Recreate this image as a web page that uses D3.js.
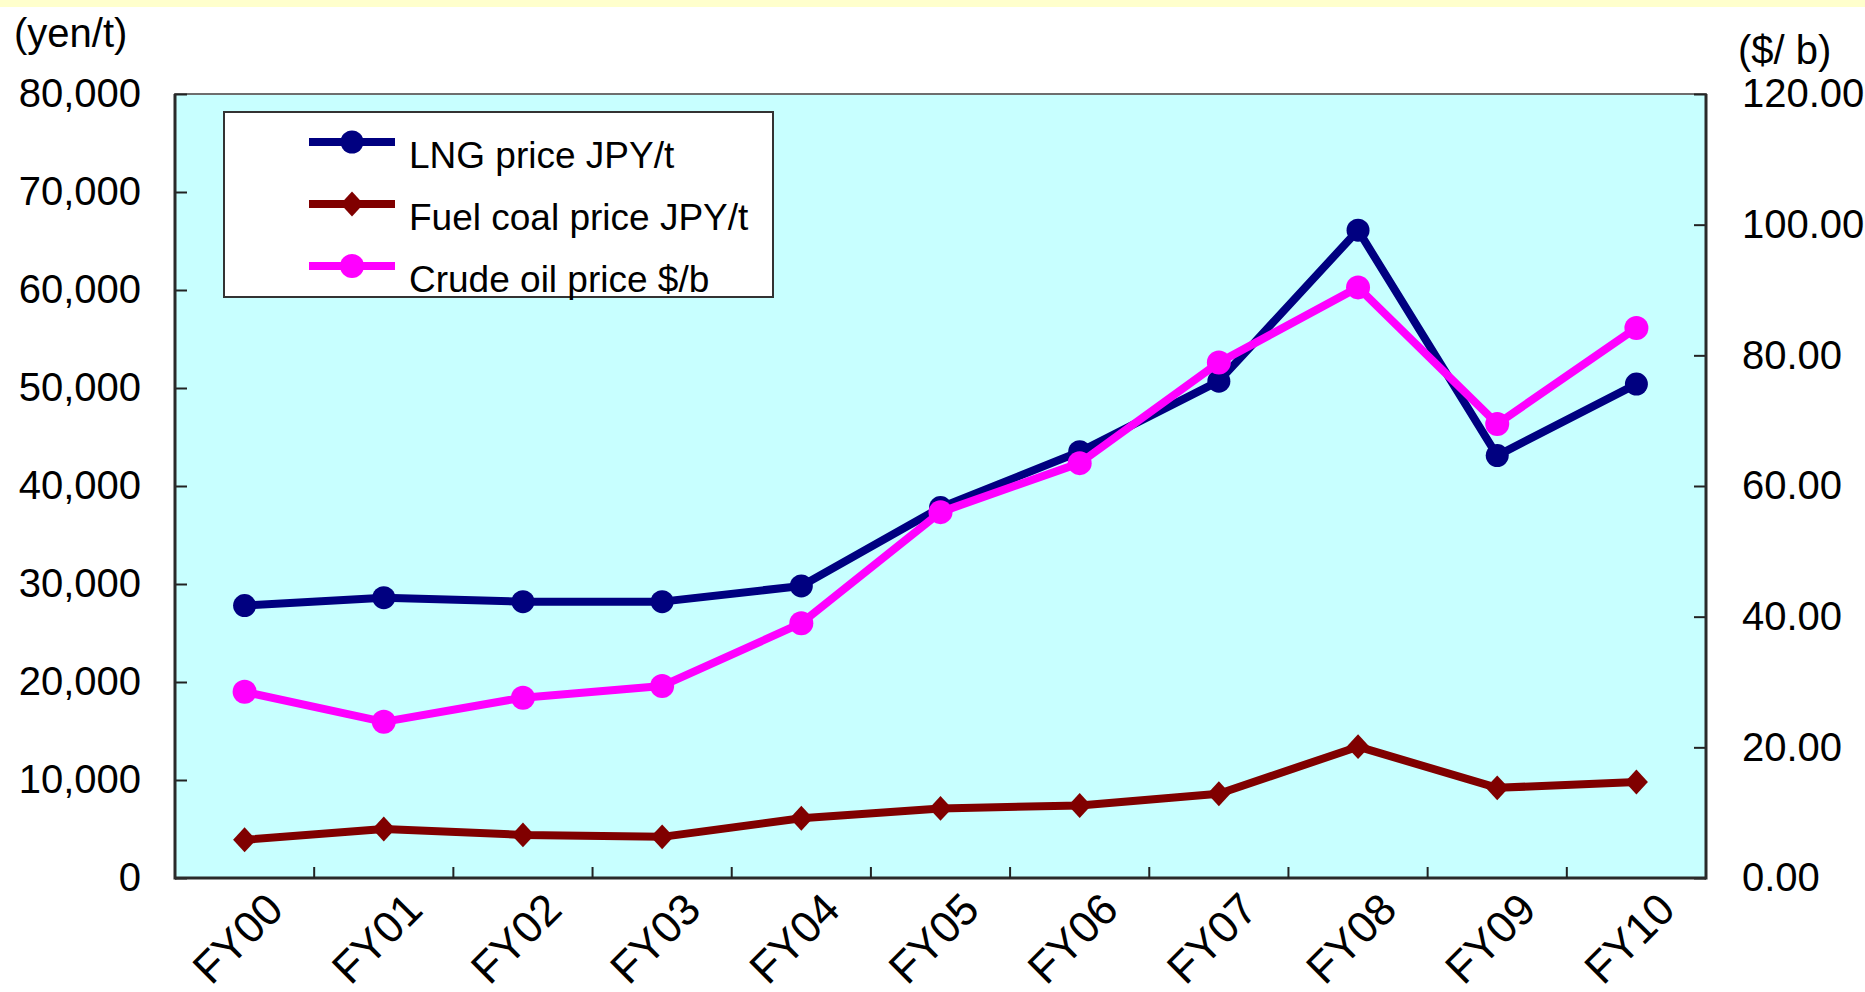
<!DOCTYPE html>
<html>
<head>
<meta charset="utf-8">
<script src="https://cdn.jsdelivr.net/npm/d3@7"></script>
<style>
  html, body { margin: 0; padding: 0; background: #ffffff; }
  svg { display: block; }
  text { font-family: "Liberation Sans", Arial, sans-serif; fill: #000; }
</style>
</head>
<body>
<svg id="chart" width="1865" height="992"></svg>
<script>
// Fiscal years on the category axis
const categories = ["FY00", "FY01", "FY02", "FY03", "FY04", "FY05", "FY06", "FY07", "FY08", "FY09", "FY10"];

// Left axis series (yen per tonne)
const lngPrice  = [27800, 28600, 28200, 28200, 29800, 37800, 43500, 50700, 66100, 43100, 50400];
const coalPrice = [3900, 5000, 4400, 4200, 6100, 7100, 7400, 8600, 13400, 9200, 9800];

// Right axis series (dollars per barrel)
const crudePrice = [28.5, 23.9, 27.6, 29.4, 39.0, 56.0, 63.5, 78.9, 90.4, 69.5, 84.2];

// Axis ticks
const leftTicks  = [0, 10000, 20000, 30000, 40000, 50000, 60000, 70000, 80000];
const rightTicks = [0, 20, 40, 60, 80, 100, 120];

const seriesNames = ["LNG price JPY/t", "Fuel coal price JPY/t", "Crude oil price $/b"];

const svg = d3.select("#chart");
const W = 1865, H = 992;
const plot = { left: 175, right: 1706, top: 94, bottom: 878 };

// Pale yellow strip along the top edge
svg.append("rect").attr("x", 0).attr("y", 0).attr("width", W).attr("height", 7).attr("fill", "#ffffcc");

const x = d3.scaleBand().domain(categories).range([plot.left, plot.right]).padding(0);
const yL = d3.scaleLinear().domain([0, 80000]).range([plot.bottom, plot.top]);
const yR = d3.scaleLinear().domain([0, 120]).range([plot.bottom, plot.top]);
const cx = c => x(c) + x.bandwidth() / 2;

// Plot area
svg.append("rect")
  .attr("x", plot.left).attr("y", plot.top)
  .attr("width", plot.right - plot.left).attr("height", plot.bottom - plot.top)
  .attr("fill", "#c8ffff").attr("stroke", "#6e6e6e").attr("stroke-width", 2);

// Left value axis
const axL = svg.append("g").attr("transform", `translate(${plot.left},0)`)
  .call(d3.axisLeft(yL).tickValues(leftTicks).tickFormat(d3.format(",")).tickSizeInner(-12).tickSizeOuter(0).tickPadding(34));
axL.select(".domain").remove();
axL.selectAll(".tick line").attr("stroke", "#222").attr("stroke-width", 2);
axL.selectAll(".tick text").attr("font-size", 40).attr("font-family", "Liberation Sans, Arial, sans-serif").attr("fill", "#000");

// Right value axis
const axR = svg.append("g").attr("transform", `translate(${plot.right},0)`)
  .call(d3.axisRight(yR).tickValues(rightTicks).tickFormat(d3.format(".2f")).tickSizeInner(-12).tickSizeOuter(0).tickPadding(36));
axR.select(".domain").remove();
axR.selectAll(".tick line").attr("stroke", "#222").attr("stroke-width", 2);
axR.selectAll(".tick text").attr("font-size", 40).attr("font-family", "Liberation Sans, Arial, sans-serif").attr("fill", "#000");

// Axis lines
const axisLines = svg.append("g").attr("stroke", "#2a2a2a").attr("stroke-width", 3).attr("fill", "none");
axisLines.append("line").attr("x1", plot.left).attr("x2", plot.left).attr("y1", plot.top).attr("y2", plot.bottom + 1.5);
axisLines.append("line").attr("x1", plot.right).attr("x2", plot.right).attr("y1", plot.top).attr("y2", plot.bottom + 1.5);
axisLines.append("line").attr("x1", plot.left).attr("x2", plot.right).attr("y1", plot.bottom).attr("y2", plot.bottom);

// Category boundary ticks (pointing into the plot)
svg.append("g").selectAll("line")
  .data(categories.slice(1))
  .join("line")
  .attr("x1", d => x(d)).attr("x2", d => x(d))
  .attr("y1", plot.bottom).attr("y2", plot.bottom - 11)
  .attr("stroke", "#222").attr("stroke-width", 2);

// Rotated category labels
svg.append("g").selectAll("text")
  .data(categories)
  .join("text")
  .attr("transform", d => `translate(${cx(d) + 41},${plot.bottom + 34}) rotate(-45)`)
  .attr("text-anchor", "end")
  .attr("font-size", 44)
  .text(d => d);

// Unit captions
svg.append("text").attr("x", 14).attr("y", 47).attr("font-size", 40).text("(yen/t)");
svg.append("text").attr("x", 1738).attr("y", 64).attr("font-size", 40).text("($/ b)");

// Marker shapes
const diamondPath = (r) => `M0,${-r * 1.08}L${r},0L0,${r * 1.08}L${-r},0Z`;

const series = [
  { name: seriesNames[0], values: lngPrice,   scale: yL, color: "#000080", marker: "circle",  size: 11.5 },
  { name: seriesNames[1], values: coalPrice,  scale: yL, color: "#800000", marker: "diamond", size: 11.5 },
  { name: seriesNames[2], values: crudePrice, scale: yR, color: "#ff00ff", marker: "circle",  size: 12 }
];

function drawMarker(g, s, px, py) {
  if (s.marker === "circle") {
    g.append("circle").attr("cx", px).attr("cy", py).attr("r", s.size).attr("fill", s.color);
  } else {
    g.append("path").attr("d", diamondPath(s.size)).attr("transform", `translate(${px},${py})`).attr("fill", s.color);
  }
}

series.forEach(s => {
  const g = svg.append("g");
  const line = d3.line().x((d, i) => cx(categories[i])).y(d => s.scale(d));
  g.append("path").datum(s.values)
    .attr("d", line)
    .attr("fill", "none")
    .attr("stroke", s.color)
    .attr("stroke-width", 8)
    .attr("stroke-linejoin", "round");
  s.values.forEach((v, i) => drawMarker(g, s, cx(categories[i]), s.scale(v)));
});

// Legend
const legend = svg.append("g");
legend.append("rect")
  .attr("x", 224).attr("y", 112).attr("width", 549).attr("height", 185)
  .attr("fill", "#ffffff").attr("stroke", "#333").attr("stroke-width", 2);

const legendRows = [142, 204, 266];
series.forEach((s, i) => {
  const ly = legendRows[i];
  legend.append("line").attr("x1", 309).attr("x2", 395).attr("y1", ly).attr("y2", ly)
    .attr("stroke", s.color).attr("stroke-width", 8);
  drawMarker(legend, s, 352, ly);
  legend.append("text").attr("x", 409).attr("y", ly + 26).attr("font-size", 37).text(s.name);
});
</script>
</body>
</html>
